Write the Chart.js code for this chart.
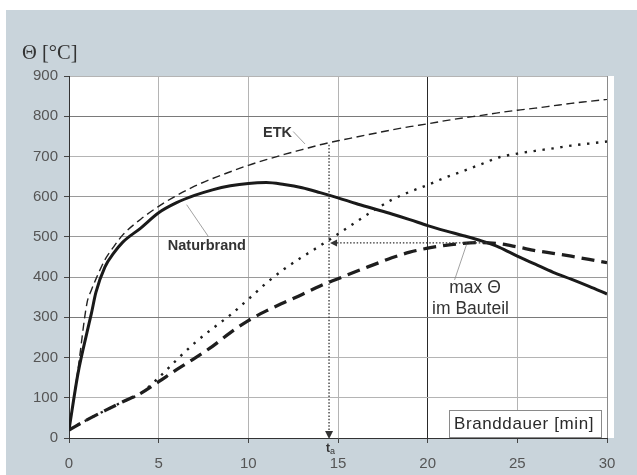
<!DOCTYPE html>
<html>
<head>
<meta charset="utf-8">
<script src="https://cdn.jsdelivr.net/npm/chart.js@4.4.1/dist/chart.umd.min.js"></script>
<style>
html,body{margin:0;padding:0;background:#ffffff;}
#wrap{width:637px;height:475px;position:relative;}
canvas{display:block;}
</style>
</head>
<body>
<div id="wrap"><canvas id="c" width="637" height="475"></canvas></div>
<script>
// ---- data ----
const minutesFire = [0,0.5,1,1.25,1.5,2,2.5,3,4,5,6,7,8,9,10,11,12,13,14,15,16,17,18,19,20,21,22,23,24,25,26,27,28,29,30];
const etkValues = [20,170,335,368,395,443,476,505,544,576,603,626,645,662,678,692,705,717,729,739,748,757,766,774,781,789,796,802,809,815,820,826,832,837,842];
const naturbrandValues = [20,160,262,310,362,425,460,487,522,560,585,603,617,627,633,635,630,622,610,597,583,570,557,543,528,515,503,490,474,452,432,412,395,377,358];

const minutesMember = [0,1,2,3,4,5,6,7,8,9,10,11,12,13,14,15,16,17,18,19,20,21,22,23,24,25,26,27,28,29,30];
const memberEtkValues = [20,45,68,90,111,150,194,236,272,306,345,385,420,450,478,507,537,566,592,612,629,648,664,681,698,707,714,720,727,732,737];
const memberNaturbrandValues = [20,45,68,90,111,140,170,198,228,262,292,316,337,357,378,396,414,431,448,462,472,479,484,486,483,475,466,459,452,444,436];

const xTicks = [0,5,10,15,20,25,30];
const yTicks = [0,100,200,300,400,500,600,700,800,900];

const taTime = 14.5;        // t_a
const maxThetaMember = 485; // max Θ im Bauteil
const maxThetaTime = 23.3;

const axisTitle = 'Θ [°C]';
const legendText = 'Branddauer [min]';

function pts(xs, ys){ return xs.map((x,i)=>({x:x, y:ys[i]})); }

const bgPlugin = {
  id:'bg',
  beforeDraw(chart){
    const ctx = chart.ctx, a = chart.chartArea;
    ctx.save();
    ctx.fillStyle = '#ffffff';
    ctx.fillRect(0,0,chart.width,chart.height);
    ctx.fillStyle = '#c9d4db';
    ctx.fillRect(6,10,chart.width-6,chart.height-10);
    ctx.fillStyle = '#ffffff';
    ctx.fillRect(a.left, a.top, a.right - a.left + 7, a.bottom - a.top);
    // axis title
    ctx.fillStyle = '#333';
    ctx.font = '20.5px "Liberation Serif", "DejaVu Serif", serif';
    ctx.textBaseline = 'alphabetic';
    ctx.textAlign = 'left';
    ctx.fillText(axisTitle, 22, 59);
    ctx.restore();
  }
};

function arrowHead(ctx, x, y, dir, len, half){
  ctx.beginPath();
  if(dir==='down'){ ctx.moveTo(x,y); ctx.lineTo(x-half,y-len); ctx.lineTo(x+half,y-len); }
  else { ctx.moveTo(x,y); ctx.lineTo(x+len,y-half); ctx.lineTo(x+len,y+half); }
  ctx.closePath(); ctx.fill();
}

const annoPlugin = {
  id:'anno',
  afterDatasetsDraw(chart){
    const ctx = chart.ctx, xs = chart.scales.x, ys = chart.scales.y, a = chart.chartArea;
    const X = v=>xs.getPixelForValue(v), Y = v=>ys.getPixelForValue(v);
    ctx.save();
    // leader lines
    ctx.strokeStyle = '#8a8a8a'; ctx.lineWidth = 0.8; ctx.setLineDash([]);
    const leaders = [[12.5,762,13.16,731],[6.56,580,7.77,501],[22.16,480,21.5,393]];
    leaders.forEach(l=>{ ctx.beginPath(); ctx.moveTo(X(l[0]),Y(l[1])); ctx.lineTo(X(l[2]),Y(l[3])); ctx.stroke(); });

    // t_a vertical dotted arrow
    ctx.strokeStyle = '#333'; ctx.fillStyle = '#333'; ctx.lineWidth = 1.3;
    ctx.setLineDash([1.5,1.8]);
    const etkAtTa = 729;
    ctx.beginPath(); ctx.moveTo(X(taTime), Y(etkAtTa)); ctx.lineTo(X(taTime), Y(0)-7); ctx.stroke();
    // horizontal dotted arrow
    ctx.beginPath(); ctx.moveTo(X(maxThetaTime), Y(maxThetaMember)); ctx.lineTo(X(taTime)+6, Y(maxThetaMember)); ctx.stroke();
    ctx.setLineDash([]);
    arrowHead(ctx, X(taTime), Y(0)+1, 'down', 8, 4);
    arrowHead(ctx, X(taTime)+1, Y(maxThetaMember), 'left', 7, 3.5);

    // texts
    ctx.fillStyle = '#333';
    ctx.textAlign = 'center'; ctx.textBaseline = 'middle';
    ctx.font = 'bold 14.5px "Liberation Sans", Arial, sans-serif';
    ctx.fillText('ETK', X(11.63), Y(759));
    ctx.fillText('Naturbrand', X(7.69), Y(478));
    ctx.font = '17.5px "Liberation Sans", Arial, sans-serif';
    ctx.fillText('max Θ', X(22.64), Y(372));
    ctx.fillText('im Bauteil', X(22.39), Y(321));

    // t_a label
    ctx.textAlign = 'left'; ctx.textBaseline = 'alphabetic';
    ctx.font = 'bold 12px "Liberation Sans", Arial, sans-serif';
    ctx.fillText('t', X(taTime)-3, a.bottom + 14);
    ctx.font = '9px "Liberation Sans", Arial, sans-serif';
    ctx.fillText('a', X(taTime)+1, a.bottom + 16);

    // legend box
    const bx = a.right - 158, by = a.bottom - 28, bw = 152, bh = 27;
    ctx.fillStyle = '#ffffff';
    ctx.fillRect(bx, by, bw, bh);
    ctx.strokeStyle = '#8a8a8a'; ctx.lineWidth = 1;
    ctx.strokeRect(bx+0.5, by+0.5, bw, bh);
    ctx.fillStyle = '#2a2a2a';
    ctx.font = '17px "Liberation Sans", Arial, sans-serif';
    ctx.textBaseline = 'middle';
    if ('letterSpacing' in ctx) ctx.letterSpacing = '0.6px';
    ctx.fillText(legendText, bx + 5, by + bh/2 + 1);
    ctx.restore();
  }
};

const gridX = c => { const v = c.tick && c.tick.value; if (v===20) return '#2a2a2a'; if (v===30) return '#8a8a8a'; return '#b4b4b4'; };
const gridY = c => { const v = c.tick && c.tick.value; if (v===300||v===800) return '#7a7a7a'; if (v===400||v===500||v===600) return '#9a9a9a'; return '#b4b4b4'; };

new Chart(document.getElementById('c'), {
  type:'line',
  data:{
    datasets:[
      { label:'Bauteil ETK', data:pts(minutesMember, memberEtkValues), borderColor:'#1e1e1e', borderWidth:2.4, borderDash:[2.4,6.6], pointRadius:0, cubicInterpolationMode:'monotone', fill:false },
      { label:'Bauteil Naturbrand', data:pts(minutesMember, memberNaturbrandValues), borderColor:'#1e1e1e', borderWidth:3.3, borderDash:[13,7], pointRadius:0, cubicInterpolationMode:'monotone', fill:false },
      { label:'Naturbrand', data:pts(minutesFire, naturbrandValues), borderColor:'#1a1a1a', borderWidth:3, pointRadius:0, cubicInterpolationMode:'monotone', fill:false },
      { label:'ETK', data:pts(minutesFire, etkValues), borderColor:'#222', borderWidth:1.4, borderDash:[8,4.5], pointRadius:0, cubicInterpolationMode:'monotone', fill:false }
    ]
  },
  options:{
    responsive:false, animation:false, devicePixelRatio:1,
    layout:{ padding:{ left:0, right:30, top:76, bottom:0 } },
    plugins:{ legend:{display:false}, tooltip:{enabled:false}, title:{display:false} },
    scales:{
      x:{
        type:'linear', min:0, max:30,
        afterBuildTicks: s => { s.ticks = xTicks.map(v=>({value:v})); },
        afterFit: s => { s.height = 37; },
        grid:{ color:gridX, lineWidth:1, tickLength:5, tickColor:'#444', drawOnChartArea:true },
        border:{ display:true, color:'#333', width:1 },
        ticks:{ color:'#555', font:{ family:'"Liberation Sans", Arial, sans-serif', size:15 }, padding:12, maxRotation:0 }
      },
      y:{
        type:'linear', min:0, max:900,
        afterBuildTicks: s => { s.ticks = yTicks.map(v=>({value:v})); },
        afterFit: s => { s.width = 69; },
        grid:{ color:gridY, lineWidth:1, tickLength:5, tickColor:'#444' },
        border:{ display:true, color:'#333', width:1 },
        ticks:{ color:'#555', font:{ family:'"Liberation Sans", Arial, sans-serif', size:15 }, padding:6 }
      }
    }
  },
  plugins:[bgPlugin, annoPlugin]
});
</script>
</body>
</html>
